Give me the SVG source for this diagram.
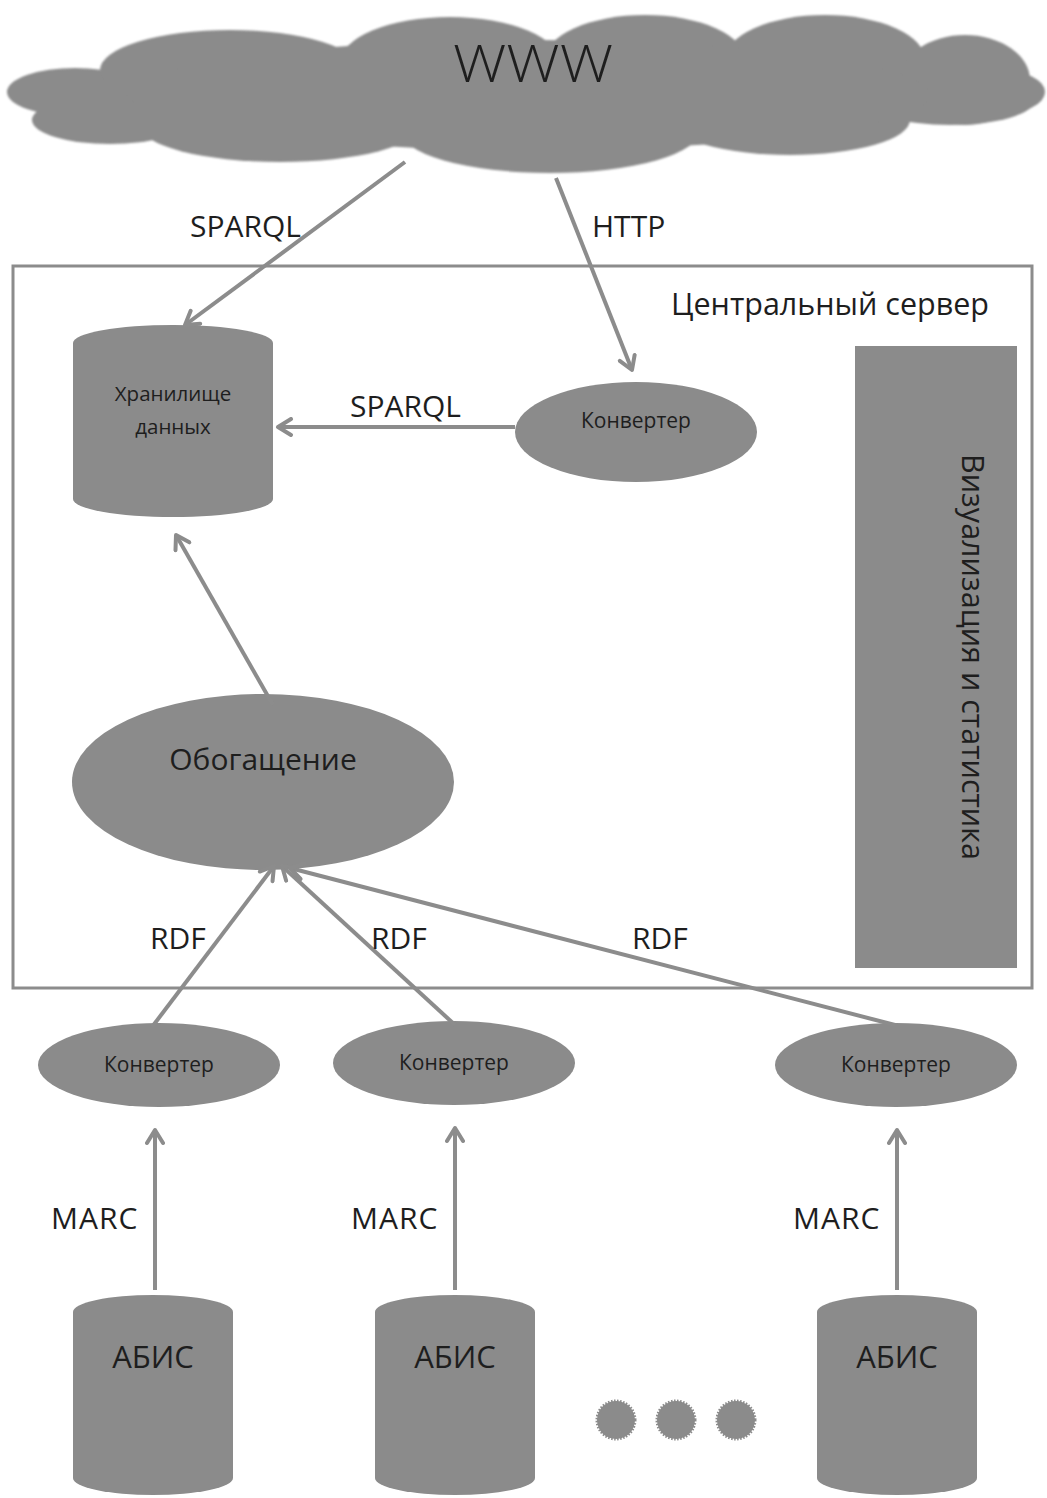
<svg xmlns="http://www.w3.org/2000/svg" width="1047" height="1498" viewBox="0 0 1047 1498">
<style>
.shape{fill:#8b8b8b}
.edge{stroke:#8c8c8c;stroke-width:4;fill:none;marker-end:url(#arr)}
.lbl{font-family:"Open Sans","Liberation Sans",sans-serif;fill:#1e1e1e;text-anchor:middle}
.elabel{font-family:"Open Sans","Liberation Sans",sans-serif;fill:#1e1e1e;font-size:30px}
</style>
<defs>
<marker id="arr" viewBox="0 0 20 20" refX="17" refY="10" markerWidth="20" markerHeight="20" markerUnits="userSpaceOnUse" orient="auto">
<path d="M4,2 L17,10 L4,18" fill="none" stroke="#8c8c8c" stroke-width="4" stroke-linecap="round" stroke-linejoin="round"/>
</marker>
<filter id="soft" x="-5%" y="-5%" width="110%" height="110%"><feGaussianBlur stdDeviation="1.2"/></filter>
</defs>
<rect width="1047" height="1498" fill="#ffffff"/>

<g id="www">
<g class="shape" filter="url(#soft)">
<ellipse cx="75" cy="92" rx="68" ry="24"/>
<ellipse cx="230" cy="70" rx="130" ry="40"/>
<ellipse cx="450" cy="63" rx="110" ry="46"/>
<ellipse cx="645" cy="60" rx="100" ry="45"/>
<ellipse cx="825" cy="60" rx="100" ry="45"/>
<ellipse cx="965" cy="80" rx="65" ry="45"/>
<ellipse cx="1000" cy="92" rx="45" ry="22"/>
<ellipse cx="110" cy="120" rx="78" ry="24"/>
<ellipse cx="280" cy="125" rx="140" ry="37"/>
<ellipse cx="550" cy="130" rx="150" ry="43"/>
<ellipse cx="790" cy="120" rx="120" ry="35"/>
<ellipse cx="950" cy="100" rx="85" ry="25"/>
<ellipse cx="530" cy="95" rx="400" ry="55"/>
</g>
<text class="lbl" x="533" y="82" font-size="52" font-weight="300" textLength="160" lengthAdjust="spacingAndGlyphs">WWW</text>
</g>

<g id="server">
<rect x="13" y="266" width="1019" height="722" fill="none" stroke="#8c8c8c" stroke-width="3"/>
<text class="lbl" x="830" y="315" font-size="30.5">Центральный сервер</text>
</g>

<g id="storage">
<path class="shape" d="M73,343 A100,18 0 0 1 273,343 L273,499 A100,18 0 0 1 73,499 Z"/>
<text class="lbl" x="173" y="401" font-size="20.5">Хранилище</text>
<text class="lbl" x="173" y="434" font-size="20.5">данных</text>
</g>

<g id="converter-top">
<ellipse class="shape" cx="636" cy="432" rx="121" ry="50"/>
<text class="lbl" x="636" y="428" font-size="21">Конвертер</text>
</g>

<g id="enrichment">
<ellipse class="shape" cx="263" cy="782" rx="191" ry="88"/>
<text class="lbl" x="263" y="770" font-size="30">Обогащение</text>
</g>

<g id="visualization">
<rect class="shape" x="855" y="346" width="162" height="622"/>
<text class="lbl" transform="translate(962,657) rotate(90)" font-size="30.5">Визуализация и статистика</text>
</g>

<g id="converter-1">
<ellipse class="shape" cx="159" cy="1065" rx="121" ry="42"/>
<text class="lbl" x="159" y="1072" font-size="21">Конвертер</text>
</g>
<g id="converter-2">
<ellipse class="shape" cx="454" cy="1063" rx="121" ry="42"/>
<text class="lbl" x="454" y="1070" font-size="21">Конвертер</text>
</g>
<g id="converter-3">
<ellipse class="shape" cx="896" cy="1065" rx="121" ry="42"/>
<text class="lbl" x="896" y="1072" font-size="21">Конвертер</text>
</g>

<g id="abis-1">
<path class="shape" d="M73,1312 A80,17 0 0 1 233,1312 L233,1478 A80,17 0 0 1 73,1478 Z"/>
<text class="lbl" x="153" y="1368" font-size="31">АБИС</text>
</g>
<g id="abis-2">
<path class="shape" d="M375,1312 A80,17 0 0 1 535,1312 L535,1478 A80,17 0 0 1 375,1478 Z"/>
<text class="lbl" x="455" y="1368" font-size="31">АБИС</text>
</g>
<g id="abis-3">
<path class="shape" d="M817,1312 A80,17 0 0 1 977,1312 L977,1478 A80,17 0 0 1 817,1478 Z"/>
<text class="lbl" x="897" y="1368" font-size="31">АБИС</text>
</g>

<g id="ellipsis">
<circle class="shape" cx="616" cy="1420" r="19" stroke="#8b8b8b" stroke-width="3" stroke-dasharray="1.5 1.5"/>
<circle class="shape" cx="676" cy="1420" r="19" stroke="#8b8b8b" stroke-width="3" stroke-dasharray="1.5 1.5"/>
<circle class="shape" cx="736" cy="1420" r="19" stroke="#8b8b8b" stroke-width="3" stroke-dasharray="1.5 1.5"/>
</g>

<g id="connectors">
<line class="edge" x1="405" y1="162" x2="185" y2="325"/>
<line class="edge" x1="556" y1="178" x2="632" y2="370"/>
<line class="edge" x1="515" y1="427" x2="278" y2="427"/>
<line class="edge" x1="273" y1="705" x2="176" y2="535"/>
<line class="edge" x1="152" y1="1027" x2="274" y2="866"/>
<line class="edge" x1="455" y1="1025" x2="282" y2="866"/>
<line class="edge" x1="895" y1="1025" x2="290" y2="868"/>
<line class="edge" x1="155" y1="1290" x2="155" y2="1130"/>
<line class="edge" x1="455" y1="1290" x2="455" y2="1128"/>
<line class="edge" x1="897" y1="1290" x2="897" y2="1130"/>
<text class="elabel" x="190" y="237">SPARQL</text>
<text class="elabel" x="592" y="237">HTTP</text>
<text class="elabel" x="350" y="417">SPARQL</text>
<text class="elabel" x="150" y="949">RDF</text>
<text class="elabel" x="371" y="949">RDF</text>
<text class="elabel" x="632" y="949">RDF</text>
<text class="elabel" x="51" y="1229" letter-spacing="1">MARC</text>
<text class="elabel" x="351" y="1229" letter-spacing="1">MARC</text>
<text class="elabel" x="793" y="1229" letter-spacing="1">MARC</text>
</g>
</svg>
